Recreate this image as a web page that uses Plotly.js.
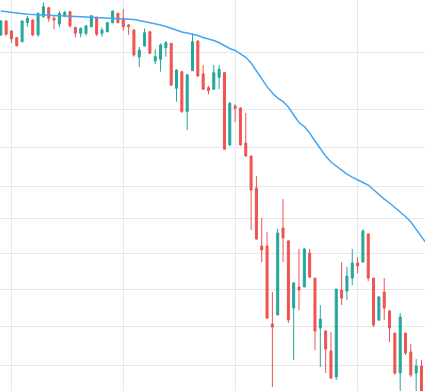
<!DOCTYPE html>
<html>
<head>
<meta charset="utf-8">
<script src="https://cdn.plot.ly/plotly-3.0.1.min.js"></script>
<style>
  html, body { margin: 0; padding: 0; background: #ffffff; }
  #chart { width: 425px; height: 391px; }
</style>
</head>
<body>
<div id="chart"></div>
<script>
// Trading days (2008)
const dates = [
  '2008-07-30','2008-07-31',
  '2008-08-01','2008-08-04','2008-08-05','2008-08-06','2008-08-07','2008-08-08','2008-08-11','2008-08-12','2008-08-13','2008-08-14','2008-08-15',
  '2008-08-18','2008-08-19','2008-08-20','2008-08-21','2008-08-22','2008-08-25','2008-08-26','2008-08-27','2008-08-28','2008-08-29',
  '2008-09-02','2008-09-03','2008-09-04','2008-09-05','2008-09-08','2008-09-09','2008-09-10','2008-09-11','2008-09-12',
  '2008-09-15','2008-09-16','2008-09-17','2008-09-18','2008-09-19','2008-09-22','2008-09-23','2008-09-24','2008-09-25','2008-09-26',
  '2008-09-29','2008-09-30',
  '2008-10-01','2008-10-02','2008-10-03','2008-10-06','2008-10-07','2008-10-08','2008-10-09','2008-10-10',
  '2008-10-13','2008-10-14','2008-10-15','2008-10-16','2008-10-17','2008-10-20','2008-10-21','2008-10-22','2008-10-23','2008-10-24',
  '2008-10-27','2008-10-28','2008-10-29','2008-10-30','2008-10-31',
  '2008-11-03','2008-11-04','2008-11-05','2008-11-06','2008-11-07','2008-11-10','2008-11-11','2008-11-12','2008-11-13','2008-11-14',
  '2008-11-17','2008-11-18','2008-11-19'
];

const openV = [
  1264.2,1284.9,1270.0,1260.2,1254.3,1282.4,1286.4,1264.2,1291.4,1305.0,
  1289.0,1280.4,1292.9,1298.9,1275.4,1266.6,1266.6,1276.4,1290.5,1266.6,
  1269.0,1282.4,1296.5,1289.0,1279.0,1271.5,1232.1,1248.0,1269.0,1226.4,
  1228.8,1245.5,1252.0,1187.9,1211.2,1155.9,1212.6,1255.3,1208.0,1188.8,
  1186.6,1203.3,1209.8,1112.0,1163.6,1160.9,1114.5,1097.8,1057.6,988.4,
  988.4,902.4,912.0,1009.3,994.2,919.4,942.2,942.2,980.3,952.1,
  898.2,895.1,874.5,848.4,938.9,937.8,952.1,969.0,970.1,1002.3,
  952.1,906.6,936.7,916.2,893.0,852.3,893.0,873.5,852.3,859.3
];
const highV = [
  1286.4,1285.7,1271.5,1260.8,1285.7,1292.4,1287.4,1298.0,1312.7,1306.5,
  1293.9,1300.0,1300.4,1300.0,1276.4,1275.4,1279.0,1293.9,1291.4,1275.4,
  1283.9,1300.4,1297.4,1303.0,1280.4,1272.5,1246.5,1273.9,1270.0,1243.2,
  1252.0,1255.3,1252.4,1214.6,1212.2,1208.0,1266.6,1255.8,1220.7,1191.2,
  1220.7,1220.7,1210.8,1169.5,1166.0,1162.3,1154.2,1098.4,1072.4,1021.2,
  1004.7,936.7,1008.2,1044.0,995.3,947.7,985.0,986.1,985.0,952.1,
  922.6,896.1,894.0,940.0,970.1,964.5,985.0,975.7,1008.2,1003.5,
  952.1,932.4,952.1,917.3,893.0,914.1,893.0,881.6,866.3,865.3
];
const lowV = [
  1262.7,1263.1,1252.4,1247.0,1253.4,1276.4,1262.7,1261.7,1289.9,1283.9,
  1272.5,1275.4,1290.5,1274.9,1260.8,1260.8,1263.1,1275.4,1262.7,1261.7,
  1268.1,1281.5,1281.5,1270.5,1264.2,1232.6,1217.8,1247.0,1236.4,1221.7,
  1211.2,1232.6,1191.2,1169.5,1154.6,1131.5,1212.2,1204.2,1185.6,1179.7,
  1185.6,1186.6,1105.5,1110.7,1142.1,1111.1,1096.5,1007.0,995.3,970.1,
  907.7,838.5,912.0,970.1,903.5,865.3,917.3,942.2,952.1,875.5,
  858.3,852.3,846.4,845.4,922.6,928.0,944.4,957.7,969.0,948.8,
  899.2,905.6,906.6,883.7,850.3,820.0,870.4,848.3,828.0,805.0
];
const closeV = [
  1284.9,1265.2,1258.3,1248.5,1284.9,1289.0,1264.2,1296.5,1306.5,1289.0,
  1286.4,1296.5,1298.0,1277.5,1266.6,1273.9,1277.5,1292.9,1265.2,1271.5,
  1282.4,1300.0,1282.4,1276.4,1276.4,1235.0,1242.2,1267.5,1237.4,1232.6,
  1249.5,1252.9,1192.5,1213.6,1155.9,1206.6,1254.3,1205.1,1186.6,1184.6,
  1209.8,1214.6,1106.4,1167.3,1160.5,1112.0,1097.8,1055.1,996.5,983.8,
  908.7,899.2,1003.5,997.6,906.6,946.6,938.9,985.0,953.3,895.1,
  907.7,876.5,847.4,940.0,930.1,954.4,969.0,965.6,1005.8,952.1,
  901.4,931.3,919.4,898.2,852.3,909.8,872.5,850.3,859.3,810.0
];

// 50-day moving average (runs one day past the last visible candle)
const maDates = dates.concat(['2008-11-20']);
const maV = [
  1300.0,1298.8,1297.7,1297.0,1295.8,1295.0,1294.6,1294.0,1293.6,1293.5,
  1293.2,1293.0,1292.9,1292.4,1292.0,1291.5,1291.1,1290.6,1290.2,1289.7,
  1289.4,1289.1,1288.8,1288.2,1287.9,1287.1,1285.7,1284.2,1282.7,1281.2,
  1279.0,1276.7,1273.7,1270.8,1268.6,1267.1,1265.3,1263.4,1260.5,1258.3,
  1256.1,1252.7,1248.0,1244.4,1241.5,1237.2,1231.7,1223.5,1212.2,1200.9,
  1190.2,1181.5,1174.5,1169.8,1162.2,1151.5,1141.5,1136.1,1127.6,1117.1,
  1106.8,1097.8,1090.1,1085.0,1080.0,1074.8,1071.1,1067.4,1064.3,1061.2,
  1055.1,1049.0,1044.0,1039.2,1033.7,1028.3,1023.0,1016.4,1008.2,1000.0,
  990.7
];

// Grid positions (hidden axes)
const xGridDates = ['2008-08-01','2008-09-02','2008-10-01','2008-11-03'];
const yGridVals = [860, 900, 940, 980, 1020, 1060, 1109, 1159, 1239];

const UP = '#26a69a', DOWN = '#ef5350', GRID = '#e4e7eb';

const traces = [
  {
    type: 'candlestick',
    x: dates, open: openV, high: highV, low: lowV, close: closeV,
    increasing: { line: { color: UP, width: 1 }, fillcolor: UP },
    decreasing: { line: { color: DOWN, width: 1 }, fillcolor: DOWN },
    whiskerwidth: 0,
    hoverinfo: 'skip'
  },
  {
    type: 'scatter', mode: 'lines',
    x: maDates, y: maV,
    line: { color: '#42a5f5', width: 1.5 },
    hoverinfo: 'skip'
  }
];

const layout = {
  width: 425, height: 391,
  margin: { l: 0, r: 0, t: 0, b: 0, pad: 0 },
  paper_bgcolor: '#ffffff', plot_bgcolor: '#ffffff',
  showlegend: false,
  boxgap: 0.624, boxgroupgap: 0,
  xaxis: {
    type: 'category',
    range: [-0.15, 79.66],
    tickmode: 'array', tickvals: xGridDates,
    showticklabels: false, ticks: '',
    showgrid: true, gridcolor: GRID, gridwidth: 1,
    zeroline: false, showline: false,
    rangeslider: { visible: false }
  },
  yaxis: {
    type: 'log',
    range: [2.92148, 3.11952],
    tickmode: 'array', tickvals: yGridVals,
    showticklabels: false, ticks: '',
    showgrid: true, gridcolor: GRID, gridwidth: 1,
    zeroline: false, showline: false
  }
};

Plotly.newPlot('chart', traces, layout, { staticPlot: true, displayModeBar: false });
</script>
</body>
</html>
